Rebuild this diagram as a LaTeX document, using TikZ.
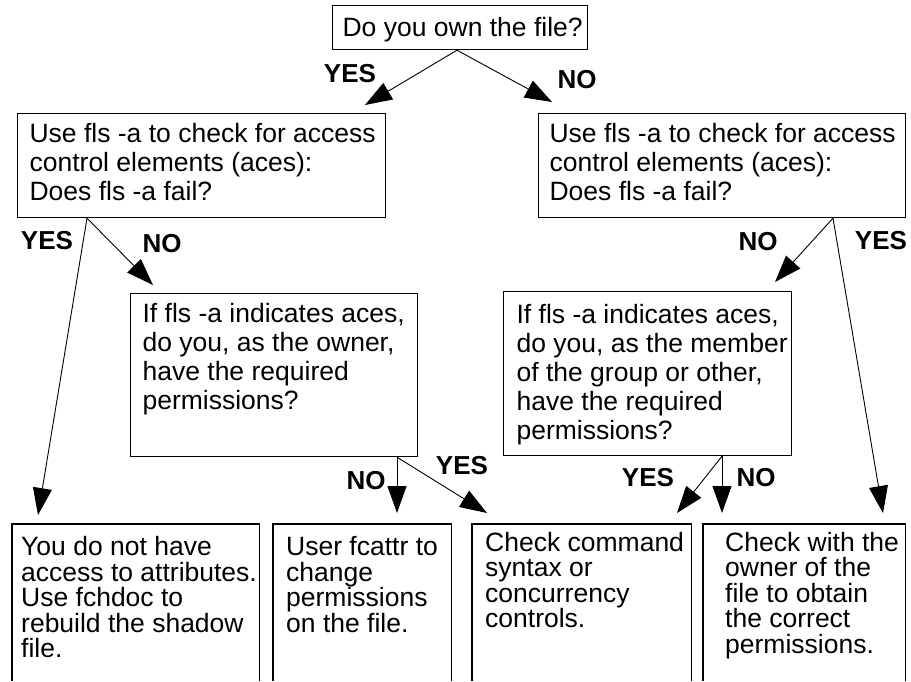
\documentclass[tikz,border=0pt]{standalone}
\usepackage{fontspec}
\setmainfont{Liberation Sans}
\usetikzlibrary{arrows.meta,calc}
% #1 width, #2 height, #3 left pad, #4 top pad, #5 text
\newcommand\bxcontent[5]{\parbox[t][#2][t]{#1}{\leftskip=#3\rightskip=0pt plus 1fil\relax\vspace*{#4}#5\par}}
\tikzset{
  boxshape/.style={draw, line width=1.2pt, inner sep=0pt, anchor=north west,
    font=\fontsize{26.5pt}{29pt}\selectfont},
  openbox/.style={draw=none, inner sep=0pt, anchor=north west,
    font=\fontsize{26.5pt}{25.5pt}\selectfont},
  boxline/.style={line width=1.2pt},
  arr/.style={line width=0.9pt, -{Triangle[length=27pt,width=19pt]}},
  lbl/.style={font=\fontsize{26pt}{28pt}\selectfont\bfseries, inner sep=0pt}
}
\begin{document}
\begin{tikzpicture}[x=1pt,y=-1pt]
\useasboundingbox (0,0) rectangle (911,681);
% boxes
\node[boxshape] (T) at (332,5) {\bxcontent{255pt}{44pt}{10pt}{12pt}{Do you own the file?}};
\node[boxshape] (L1) at (17,113) {\bxcontent{368pt}{104pt}{12pt}{10pt}{Use fls -a to check for access\\control elements (aces):\\Does fls -a fail?}};
\node[boxshape] (R1) at (538,113) {\bxcontent{367pt}{104pt}{11pt}{10pt}{Use fls -a to check for access\\control elements (aces):\\Does fls -a fail?}};
\node[boxshape] (L2) at (130,293) {\bxcontent{287pt}{163pt}{12pt}{9.5pt}{If fls -a indicates aces,\\do you, as the owner,\\have the required\\permissions?}};
\node[boxshape] (R2) at (503,291) {\bxcontent{288pt}{164pt}{13pt}{12.5pt}{If fls -a indicates aces,\\do you, as the member\\of the group or other,\\have the required\\permissions?}};
% bottom boxes (open at the bottom)
\node[openbox] (B1) at (12,524) {\bxcontent{247pt}{157pt}{9pt}{12.4pt}{You do not have\\access to attributes.\\Use fchdoc to\\rebuild the shadow\\file.}};
\node[openbox] (B2) at (273,524) {\bxcontent{178pt}{157pt}{13pt}{12.4pt}{User fcattr to\\change\\permissions\\on the file.}};
\node[openbox] (B3) at (472,524) {\bxcontent{219pt}{157pt}{13pt}{7.9pt}{Check command\\syntax or\\concurrency\\controls.}};
\node[openbox] (B4) at (703,524) {\bxcontent{202pt}{157pt}{22pt}{7.9pt}{Check with the\\owner of the\\file to obtain\\the correct\\permissions.}};
\foreach \b in {B1,B2,B3,B4}{
  \draw[boxline] (\b.south west) -- (\b.north west) -- (\b.north east) -- (\b.south east);
}
% connectors
\draw[arr] ($(T.south west)+(125,0)$) -- ($(L1.north west)+(348,-8)$);
\draw[arr] ($(T.south west)+(125,0)$) -- ($(R1.north west)+(14,-11)$);
\draw[arr] ($(L1.south west)+(70,0)$) -- ($(B1.north west)+(26,-9)$);
\draw[arr] ($(L1.south west)+(70,0)$) -- ($(L2.north west)+(23,-8)$);
\draw[arr] ($(R1.south west)+(295,0)$) -- ($(R2.north west)+(272,-9)$);
\draw[arr] ($(R1.south west)+(295,0)$) -- ($(B4.north west)+(180,-11)$);
\draw[arr] ($(L2.south west)+(267,0)$) -- ($(B2.north west)+(124,-11)$);
\draw[arr] ($(L2.south west)+(267,0)$) -- ($(B3.north west)+(15,-11)$);
\draw[arr] ($(R2.south west)+(219,0)$) -- ($(B3.north west)+(205,-11)$);
\draw[arr] ($(R2.south west)+(219,0)$) -- ($(B4.north west)+(19,-11)$);
% labels
\node[lbl] (lTy) at (350,74) {YES};
\node[lbl] (lTn) at (577,80) {NO};
\node[lbl] (lL1y) at (47,241) {YES};
\node[lbl] (lL1n) at (162,244) {NO};
\node[lbl] (lR1n) at (758,242) {NO};
\node[lbl] (lR1y) at (881,241) {YES};
\node[lbl] (lL2n) at (366,481) {NO};
\node[lbl] (lL2y) at (462,466) {YES};
\node[lbl] (lR2y) at (648,478) {YES};
\node[lbl] (lR2n) at (756,478) {NO};
\end{tikzpicture}
\end{document}
